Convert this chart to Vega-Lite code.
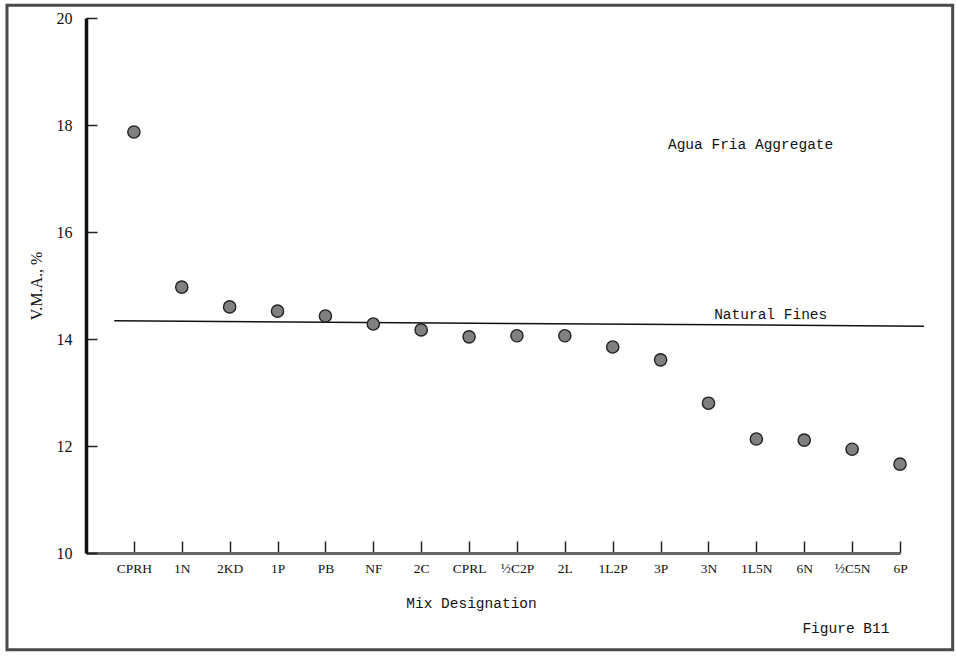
{
  "$schema": "https://vega.github.io/schema/vega-lite/v6.json",
  "width": 814,
  "height": 535,
  "autosize": {"type": "none"},
  "padding": {"left": 86, "top": 18, "right": 57, "bottom": 103},
  "background": "white",
  "config": {"view": {"stroke": null}, "font": "Liberation Serif"},
  "datasets": {
    "mixes": [
      {"mix": "CPRH", "vma": 17.87},
      {"mix": "1N", "vma": 14.97},
      {"mix": "2KD", "vma": 14.60},
      {"mix": "1P", "vma": 14.52},
      {"mix": "PB", "vma": 14.43},
      {"mix": "NF", "vma": 14.28},
      {"mix": "2C", "vma": 14.17},
      {"mix": "CPRL", "vma": 14.04},
      {"mix": "½C2P", "vma": 14.06},
      {"mix": "2L", "vma": 14.06},
      {"mix": "1L2P", "vma": 13.85},
      {"mix": "3P", "vma": 13.61},
      {"mix": "3N", "vma": 12.80},
      {"mix": "1L5N", "vma": 12.13},
      {"mix": "6N", "vma": 12.11},
      {"mix": "½C5N", "vma": 11.94},
      {"mix": "6P", "vma": 11.66}
    ],
    "fines": [
      {"pos": -0.41, "vma": 14.34},
      {"pos": 16.5, "vma": 14.24}
    ],
    "one": [{}]
  },
  "layer": [
    {
      "data": {"name": "one"},
      "mark": {"type": "rect", "fill": "transparent", "stroke": "#4a4a4a", "strokeWidth": 3, "clip": false},
      "encoding": {
        "x": {"datum": -2.65, "type": "quantitative", "scale": {"domain": [-1, 16], "nice": false, "zero": false}, "axis": null},
        "x2": {"datum": 17.1},
        "y": {"datum": 20.24, "type": "quantitative"},
        "y2": {"datum": 8.19}
      }
    },
    {
      "data": {"name": "fines"},
      "mark": {"type": "line", "color": "#111", "strokeWidth": 1.5, "clip": false},
      "encoding": {
        "x": {"field": "pos", "type": "quantitative", "scale": {"domain": [-1, 16], "nice": false, "zero": false}, "axis": null},
        "y": {"field": "vma", "type": "quantitative"}
      }
    },
    {
      "data": {"name": "one"},
      "mark": {"type": "text", "text": "Natural Fines", "font": "Liberation Mono", "fontSize": 14.5, "color": "#111", "align": "center", "baseline": "middle"},
      "encoding": {
        "x": {"datum": 13.3, "type": "quantitative", "scale": {"domain": [-1, 16], "nice": false, "zero": false}, "axis": null},
        "y": {"datum": 14.45, "type": "quantitative"}
      }
    },
    {
      "data": {"name": "one"},
      "mark": {"type": "text", "text": "Agua Fria Aggregate", "font": "Liberation Mono", "fontSize": 14.5, "color": "#111", "align": "center", "baseline": "middle"},
      "encoding": {
        "x": {"datum": 12.88, "type": "quantitative", "scale": {"domain": [-1, 16], "nice": false, "zero": false}, "axis": null},
        "y": {"datum": 17.63, "type": "quantitative"}
      }
    },
    {
      "data": {"name": "one"},
      "mark": {"type": "text", "text": "Figure B11", "font": "Liberation Mono", "fontSize": 14.5, "color": "#111", "align": "center", "baseline": "middle", "clip": false},
      "encoding": {
        "x": {"datum": 14.87, "type": "quantitative", "scale": {"domain": [-1, 16], "nice": false, "zero": false}, "axis": null},
        "y": {"datum": 8.58, "type": "quantitative"}
      }
    },
    {
      "data": {"name": "mixes"},
      "mark": {"type": "circle", "size": 150, "fill": "#808080", "stroke": "#222", "strokeWidth": 1.4, "opacity": 1},
      "encoding": {
        "x": {
          "field": "mix", "type": "nominal", "sort": null,
          "scale": {"type": "point", "padding": 0.5, "align": 1},
          "axis": {
            "title": "Mix Designation",
            "labelAngle": 0,
            "domainColor": "#666",
            "domainWidth": 3,
            "tickColor": "#222",
            "tickSize": -12,
            "tickWidth": 1.5,
            "labelPadding": 20,
            "labelFont": "Liberation Serif",
            "labelFontSize": 13.5,
            "labelColor": "#111",
            "titleFont": "Liberation Mono",
            "titleFontSize": 14.5,
            "titleFontWeight": "normal",
            "titleColor": "#111",
            "titleX": 385,
            "titleY": 50,
            "titleBaseline": "middle"
          }
        },
        "y": {
          "field": "vma", "type": "quantitative",
          "scale": {"domain": [10, 20], "nice": false, "zero": false},
          "axis": {
            "title": "V.M.A., %",
            "values": [10, 12, 14, 16, 18, 20],
            "grid": false,
            "domainColor": "#111",
            "domainWidth": 3.5,
            "tickColor": "#222",
            "tickSize": -11,
            "tickWidth": 1.5,
            "labelPadding": 25,
            "labelFont": "Liberation Serif",
            "labelFontSize": 16,
            "labelColor": "#111",
            "titleFont": "Liberation Serif",
            "titleFontSize": 16,
            "titleFontWeight": "normal",
            "titleColor": "#111",
            "titlePadding": 12
          }
        }
      }
    }
  ],
  "resolve": {"scale": {"x": "independent"}, "axis": {"x": "independent"}}
}
